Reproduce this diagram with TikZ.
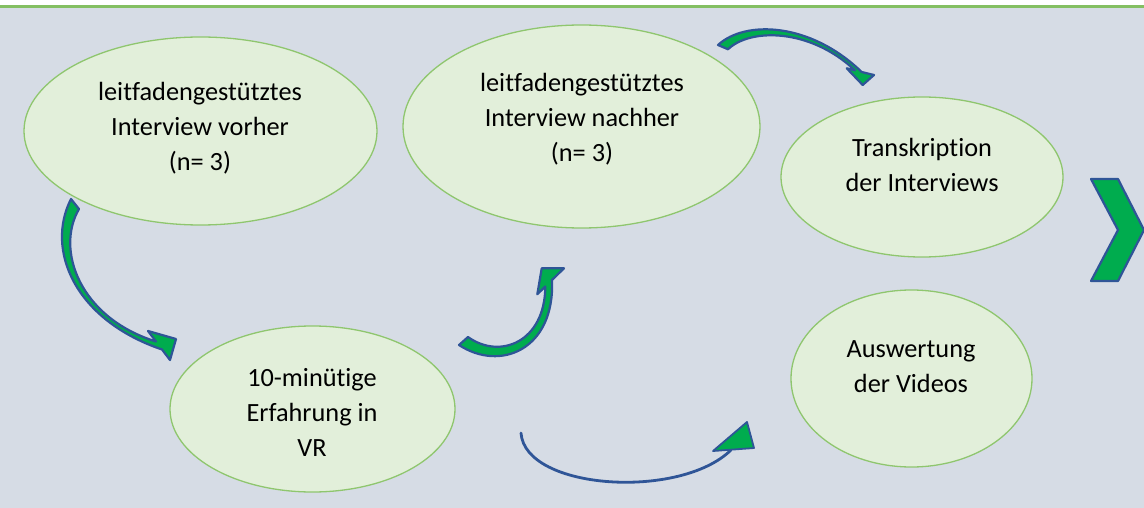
\documentclass[tikz,border=0pt]{standalone}
\usepackage{fontspec}
\setmainfont{Carlito}[Ligatures={NoCommon,NoContextual}]
\usetikzlibrary{shapes.geometric}
\definecolor{bgblue}{HTML}{D6DCE5}
\definecolor{topgreen}{HTML}{84BF62}
\definecolor{ellfill}{HTML}{E2EFDA}
\definecolor{elldraw}{HTML}{8FC66E}
\definecolor{arrgreen}{HTML}{00AC4E}
\definecolor{arrblue}{HTML}{2F5597}
\newcommand\lnstrut{\rule[-10.6pt]{0pt}{33.6pt}}
\tikzset{
  ell/.style={ellipse, draw=elldraw, fill=ellfill, line width=1.3pt, inner sep=0pt},
  lbl/.style={inner sep=0pt, align=center, font=\fontsize{26.3pt}{35pt}\selectfont, text=black},
  blockarrow/.style={fill=arrgreen, draw=arrblue, line width=2.2pt, line join=round},
  linearrow/.style={draw=arrblue, line width=2.8pt, line cap=round}
}
\begin{document}
\begin{tikzpicture}[x=1pt,y=-1pt]
\useasboundingbox (0,0) rectangle (1144,508);
\fill[white] (0,0) rectangle (1144,508);
\fill[bgblue] (0,8) rectangle (1144,508);
\draw[topgreen, line width=3pt] (0,6.5) -- (1144,6.5);

% ellipses
\node[ell, minimum width=353pt, minimum height=188pt] (e1) at (200.5,131) {};
\node[ell, minimum width=357pt, minimum height=203pt] (e2) at (581.5,126.5) {};
\node[ell, minimum width=282pt, minimum height=160pt] (e3) at (922,177) {};
\node[ell, minimum width=241pt, minimum height=177pt] (e4) at (911.5,378.5) {};
\node[ell, minimum width=285pt, minimum height=166pt] (e5) at (312.5,409) {};

% texts
\node[lbl] (t1) at (200,129) {\lnstrut leitfadengestütztes\\\lnstrut Interview vorher\\\lnstrut (n= 3)};
\node[lbl] (t2) at (582,120) {\lnstrut leitfadengestütztes\\\lnstrut Interview nachher\\\lnstrut (n= 3)};
\node[lbl] (t3) at (922,167.5) {\lnstrut Transkription\\\lnstrut der Interviews};
\node[lbl] (t4) at (911,368.5) {\lnstrut Auswertung\\\lnstrut der Videos};
\node[lbl] (t5) at (312,415) {\lnstrut 10-minütige\\\lnstrut Erfahrung in\\\lnstrut VR};

% curved block arrow: e1 -> e5
\path[blockarrow] (71,199) .. controls (45,250) and (75,320) .. (162,349.5)
  -- (170,360) -- (176,339) -- (148,331) -- (156,341.5)
  .. controls (80,318) and (55,250) .. (79,209) -- cycle;

% curved block arrow: e5 -> e2
\path[blockarrow] (459,345) .. controls (500,372) and (555,350) .. (552,280)
  -- (564,268.3) -- (541.7,268.3) -- (537.3,294.3) -- (545.3,286.5)
  .. controls (545,342) and (500,360) .. (468,337) -- cycle;

% curved block arrow: e2 -> e3
\path[blockarrow] (718,45) .. controls (745,20) and (810,22) .. (861.7,72)
  -- (874,75) -- (862.7,85) -- (846.7,68.3) -- (854.9,70.3)
  .. controls (810,28) and (750,28) .. (728,49.3) -- cycle;

% line arrow: e5 -> e4
\coordinate (d0) at (521,433);
\coordinate (d1) at (731,450);
\draw[linearrow] (d0) .. controls (525,490) and (680,500) .. (d1);
\path[blockarrow, line width=1.8pt] (713,451) -- (747,422) -- (754,448) -- cycle;

% chevron
\begin{scope}
\clip (0,0) rectangle (1144,508);
\path[blockarrow] (1091,179) -- (1118,179) -- (1144,230) -- (1118,281) -- (1091,281) -- (1118,230) -- cycle;
\end{scope}
\end{tikzpicture}
\end{document}
